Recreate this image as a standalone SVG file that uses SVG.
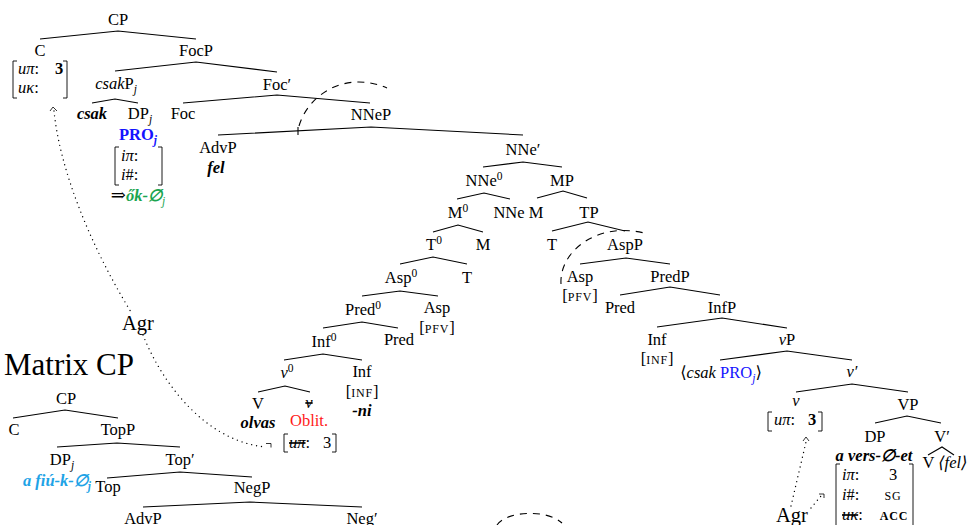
<svg xmlns="http://www.w3.org/2000/svg" width="967" height="525" viewBox="0 0 967 525">
<style>
text{font-family:"Liberation Serif","Times New Roman","DejaVu Serif",serif;font-size:16.5px;fill:#000;text-anchor:middle}
.l{text-anchor:start}
.i{font-style:italic}
.b{font-weight:bold}
.sc{font-size:12px;letter-spacing:0.8px}
.sub{font-size:11.5px;font-style:italic}
.sup{font-size:11.5px}
.e{fill:none;stroke:#000;stroke-width:1.1}
.br{fill:none;stroke:#000;stroke-width:0.9}
.dash{fill:none;stroke:#000;stroke-width:1.1;stroke-dasharray:7 6}
.dot{fill:none;stroke:#000;stroke-width:1.4;stroke-dasharray:0 5;stroke-linecap:round}
.ah{fill:none;stroke:#000;stroke-width:0.8}
.blue{fill:#1414ff}
.green{fill:#1aa550}
.cyan{fill:#1ea3e6}
.red{fill:#ff1a1a}
.s{text-decoration:line-through}
.agr{font-size:20.5px}
</style>

<g id="edges">
  <path class="e" d="M40 39 L118 31 L196 39"/>
  <path class="e" d="M115 71 L196 62 L277 72"/>
  <path class="e" d="M92 103 L115 99 L138 103"/>
  <path class="e" d="M183 103 L277 95 L370 103"/>
  <path class="e" d="M218 135 L371 127 L523 135"/>
  <path class="e" d="M298 127 V135"/>
  <path class="e" d="M483 167 L523 162 L562 167"/>
  <path class="e" d="M457 199 L484 193 L510 199"/>
  <path class="e" d="M537 198 L563 191 L587 198"/>
  <path class="e" d="M433 232 L458 225 L483 232"/>
  <path class="e" d="M552 231 L588 222 L625 231"/>
  <path class="e" d="M400 264 L433 257 L467 264"/>
  <path class="e" d="M580 264 L626 258 L670 264"/>
  <path class="e" d="M362 296 L400 291 L438 296"/>
  <path class="e" d="M323 328 L362 322 L398 328"/>
  <path class="e" d="M620 295 L670 287 L720 295"/>
  <path class="e" d="M284 360 L323 354 L362 360"/>
  <path class="e" d="M657 327 L722 318 L787 328"/>
  <path class="e" d="M258 392 L285 386 L310 392"/>
  <path class="e" d="M720 360 L787 351 L852 360"/>
  <path class="e" d="M796 392 L852 384 L908 392"/>
  <path class="e" d="M875 423 L907 416 L941 423"/>
  <path class="e" d="M928 455 L942 447 L954 455"/>
  <path class="e" d="M13 418 L65 410 L118 418"/>
  <path class="e" d="M57 447 L117 443 L180 447"/>
  <path class="e" d="M107 478 L180 472 L252 477"/>
  <path class="e" d="M143 507 L250 502 L362 507"/>
  <path class="dash" d="M299 126 C308 95 345 70 387 88"/>
  <path class="dash" d="M561 284 C559 250 600 220 648 234"/>
  <path class="dash" d="M497 525 C505 512 545 508 562 523"/>
  <path class="dot" d="M54 111 C60 170 90 245 131 312"/>
  <path class="ah" d="M50 111 L53 107 L57 111"/>
  <path class="dot" d="M143 335 C165 390 210 442 266 447"/>
  <path class="ah" d="M266 443.5 H271 V447.5"/>
  <path class="dot" d="M791 506 L806 442"/>
  <path class="ah" d="M803 441 L806 437 L809 441"/>
  <path class="dot" d="M811 508 L821 496"/>
  <path class="ah" d="M819 494 H824 V498"/>
</g>

<g id="n-cp"><text x="118" y="25">CP</text></g>
<g id="n-c"><text x="40" y="56">C</text>
  <path class="br" d="M17 61 H13 V98 H17 M63 61 H67 V98 H63"/>
  <text class="l" x="18" y="74"><tspan class="i">uπ</tspan>:</text>
  <text x="59" y="74" class="b">3</text>
  <text class="l" x="18" y="93"><tspan class="i">uκ</tspan>:</text>
</g>
<g id="n-focp"><text x="196" y="56">FocP</text></g>
<g id="n-csakp"><text x="116" y="89"><tspan class="i">csak</tspan>P<tspan class="sub" dy="4">j</tspan></text></g>
<g id="n-csak"><text x="92" y="119" class="b i">csak</text></g>
<g id="n-dp1"><text x="140" y="119">DP<tspan class="sub" dy="4">j</tspan></text>
  <text x="138" y="140" class="b blue">PRO<tspan class="sub" dy="4">j</tspan></text>
  <path class="br" d="M119 147 H115 V185 H119 M158 147 H162 V185 H158"/>
  <text class="l" x="121" y="161"><tspan class="i">iπ</tspan>:</text>
  <text class="l" x="121" y="180"><tspan class="i">i</tspan>#:</text>
  <text x="138" y="201"><tspan style="font-size:18px">⇒</tspan><tspan class="green b i">ők-∅</tspan><tspan class="sub green" dy="4">j</tspan></text>
</g>
<g id="n-foc"><text x="183" y="119">Foc</text></g>
<g id="n-focbar"><text x="277" y="90">Foc′</text></g>
<g id="n-advp"><text x="218" y="153">AdvP</text><text x="216" y="173" class="b i">fel</text></g>
<g id="n-nnep"><text x="371" y="120">NNeP</text></g>
<g id="n-nnebar"><text x="523" y="155">NNe′</text></g>
<g id="n-nne0"><text x="484" y="186">NNe<tspan class="sup" dy="-6">0</tspan></text></g>
<g id="n-mp"><text x="562" y="186">MP</text></g>
<g id="n-m0"><text x="458" y="218">M<tspan class="sup" dy="-6">0</tspan></text></g>
<g id="n-nne"><text x="509" y="218">NNe</text></g>
<g id="n-m1"><text x="536" y="218">M</text></g>
<g id="n-tp"><text x="589" y="218">TP</text></g>
<g id="n-t0"><text x="434" y="250">T<tspan class="sup" dy="-6">0</tspan></text></g>
<g id="n-m2"><text x="483" y="250">M</text></g>
<g id="n-t1"><text x="552" y="250">T</text></g>
<g id="n-aspp"><text x="625" y="250">AspP</text></g>
<g id="n-asp0"><text x="401" y="283">Asp<tspan class="sup" dy="-6">0</tspan></text></g>
<g id="n-t2"><text x="467" y="283">T</text></g>
<g id="n-asp1"><text x="580" y="282">Asp</text><text x="580" y="301">[<tspan class="sc">PFV</tspan>]</text></g>
<g id="n-predp"><text x="670" y="282">PredP</text></g>
<g id="n-pred0"><text x="363" y="315">Pred<tspan class="sup" dy="-6">0</tspan></text></g>
<g id="n-asp2"><text x="437" y="313">Asp</text><text x="437" y="333">[<tspan class="sc">PFV</tspan>]</text></g>
<g id="n-pred1"><text x="620" y="313">Pred</text></g>
<g id="n-infp"><text x="722" y="313">InfP</text></g>
<g id="n-inf0"><text x="324" y="347">Inf<tspan class="sup" dy="-6">0</tspan></text></g>
<g id="n-pred2"><text x="399" y="345">Pred</text></g>
<g id="n-inf1"><text x="657" y="345">Inf</text><text x="657" y="364">[<tspan class="sc">INF</tspan>]</text></g>
<g id="n-vp"><text x="787" y="345"><tspan class="i">v</tspan>P</text></g>
<g id="n-v0"><text x="287" y="378"><tspan class="i">v</tspan><tspan class="sup" dy="-6">0</tspan></text></g>
<g id="n-inf2"><text x="362" y="377">Inf</text><text x="362" y="397">[<tspan class="sc">INF</tspan>]</text><text x="362" y="416" class="b i">-ni</text></g>
<g id="n-csakpro"><text x="721" y="378">⟨<tspan class="i">csak</tspan> <tspan class="blue">PRO</tspan><tspan class="sub blue" dy="4">j</tspan><tspan dy="-4">⟩</tspan></text></g>
<g id="n-vbar"><text x="852" y="377" class="i">v′</text></g>
<g id="n-V1"><text x="258" y="409">V</text><text x="258" y="428" class="b i">olvas</text></g>
<g id="n-vstruck"><text x="309" y="408" class="i s">v</text><text x="309" y="426" class="red">Oblit.</text>
  <path class="br" d="M288 434 H284 V452 H288 M332 434 H336 V452 H332"/>
  <text class="l" x="289" y="448"><tspan class="i s">uπ</tspan>:</text>
  <text x="327" y="448">3</text>
</g>
<g id="n-v"><text x="796" y="406" class="i">v</text>
  <path class="br" d="M772 412 H768 V431 H772 M818 412 H822 V431 H818"/>
  <text class="l" x="774" y="425"><tspan class="i">uπ</tspan>:</text>
  <text x="812" y="425" class="b">3</text>
</g>
<g id="n-VP"><text x="908" y="410">VP</text></g>
<g id="n-dp2"><text x="875" y="442">DP</text>
  <text x="874" y="461" class="b i">a vers-∅-et</text>
  <path class="br" d="M840 464 H836 V530 M909 464 H913 V530"/>
  <text class="l" x="842" y="480"><tspan class="i">iπ</tspan>:</text>
  <text x="893" y="480">3</text>
  <text class="l" x="842" y="500"><tspan class="i">i</tspan>#:</text>
  <text x="893" y="500" class="sc">SG</text>
  <text class="l" x="842" y="520"><tspan class="i s">uκ</tspan>:</text>
  <text x="894" y="520" class="sc b">ACC</text>
</g>
<g id="n-Vbar"><text x="942" y="442">V′</text></g>
<g id="n-V2"><text x="945" y="468">V <tspan class="i">⟨fel⟩</tspan></text></g>
<g id="n-agr1"><text x="138" y="330" class="agr">Agr</text></g>
<g id="n-agr2"><text x="792" y="522" class="agr">Agr</text></g>

<g id="n-matrix"><text class="l" x="4" y="375" style="font-size:31px">Matrix CP</text></g>
<g id="n-mcp"><text x="66" y="404">CP</text></g>
<g id="n-mc"><text x="14" y="435">C</text></g>
<g id="n-topp"><text x="118" y="435">TopP</text></g>
<g id="n-mdp"><text x="62" y="465">DP<tspan class="sub" dy="4">j</tspan></text>
  <text x="57" y="486" class="cyan b i">a fiú-k-∅<tspan class="sub" dy="4">j</tspan></text></g>
<g id="n-topbar"><text x="180" y="465">Top′</text></g>
<g id="n-top"><text x="108" y="492">Top</text></g>
<g id="n-negp"><text x="252" y="493">NegP</text></g>
<g id="n-advp2"><text x="143" y="524">AdvP</text></g>
<g id="n-negbar"><text x="362" y="524">Neg′</text></g>
</svg>
